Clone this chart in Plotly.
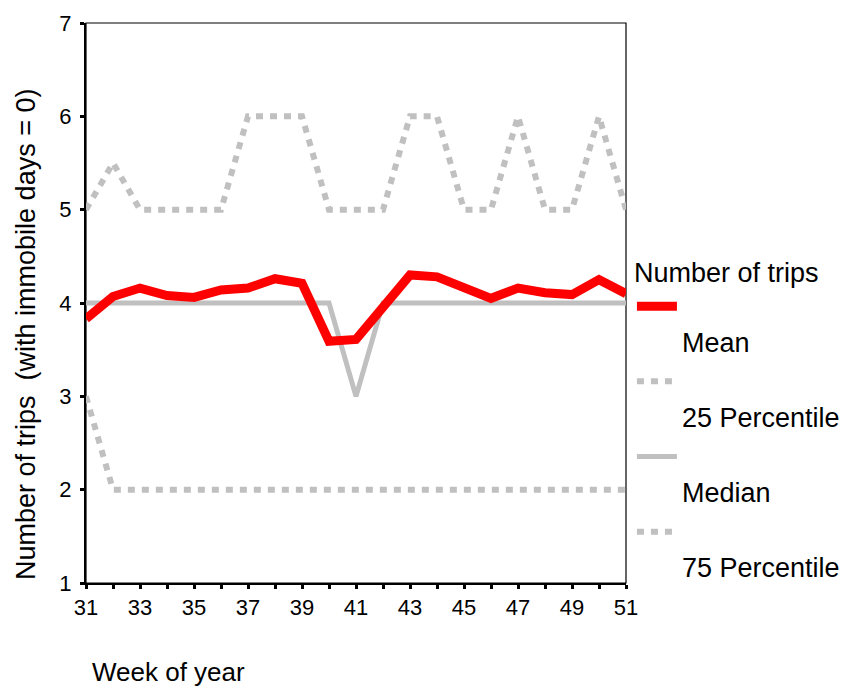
import plotly.graph_objects as go

weeks = list(range(31, 52))
mean_trips = [3.83, 4.07, 4.16, 4.08, 4.06, 4.14, 4.16, 4.26, 4.21, 3.59, 3.61,
              3.97, 4.30, 4.28, 4.16, 4.05, 4.16, 4.11, 4.09, 4.25, 4.10]
p25 = [3, 2, 2, 2, 2, 2, 2, 2, 2, 2, 2, 2, 2, 2, 2, 2, 2, 2, 2, 2, 2]
median = [4, 4, 4, 4, 4, 4, 4, 4, 4, 4, 3, 4, 4, 4, 4, 4, 4, 4, 4, 4, 4]
p75 = [5, 5.5, 5, 5, 5, 5, 6, 6, 6, 5, 5, 5, 6, 6, 5, 5, 6, 5, 5, 6, 5]

x_tick_labels = [str(w) if w % 2 == 1 else "" for w in weeks]
y_ticks = [1, 2, 3, 4, 5, 6, 7]

FONT = "Liberation Sans, Arial, sans-serif"
GRAY = "#c0c0c0"
RED = "#ff0000"

fig = go.Figure()
fig.add_trace(go.Scatter(x=weeks, y=p75, mode="lines", name="<br>75 Percentile",
                         line=dict(color=GRAY, width=6, dash="7px,7px"),
                         legendrank=4, legendgroup="d"))
fig.add_trace(go.Scatter(x=weeks, y=p25, mode="lines", name="<br>25 Percentile",
                         line=dict(color=GRAY, width=6, dash="7px,7px"),
                         legendrank=2, legendgroup="b"))
fig.add_trace(go.Scatter(x=weeks, y=median, mode="lines", name="<br>Median",
                         line=dict(color=GRAY, width=5),
                         legendrank=3, legendgroup="c"))
fig.add_trace(go.Scatter(x=weeks, y=mean_trips, mode="lines", name="<br>Mean",
                         line=dict(color=RED, width=9),
                         legendrank=1, legendgroup="a"))

fig.update_layout(
    width=843, height=690,
    margin=dict(l=86, r=217, t=23, b=107, pad=0, autoexpand=False),
    paper_bgcolor="white", plot_bgcolor="white",
    font=dict(family=FONT, color="black"),
    showlegend=True,
    legend=dict(
        title=dict(text="Number of trips", font=dict(size=27, family=FONT)),
        font=dict(size=27, family=FONT),
        x=1.011, xanchor="left", xref="paper",
        y=0.60, yanchor="top",
        valign="top", itemwidth=40, tracegroupgap=2,
        bgcolor="rgba(0,0,0,0)", borderwidth=0,
    ),
    xaxis=dict(
        range=[31, 51], tickvals=weeks, ticktext=x_tick_labels,
        showgrid=False, zeroline=False,
        showline=True, linecolor="black", linewidth=2,
        ticks="outside", ticklen=4, tickwidth=3, tickcolor="black",
        tickfont=dict(size=22, family=FONT),
    ),
    yaxis=dict(
        range=[1, 7], tickvals=y_ticks,
        showgrid=False, zeroline=False,
        showline=True, linecolor="black", linewidth=2,
        ticks="outside", ticklen=4, tickwidth=3, tickcolor="black",
        tickfont=dict(size=22, family=FONT), ticklabelstandoff=4,
    ),
    shapes=[dict(type="rect", xref="paper", yref="paper", x0=0, x1=1, y0=0, y1=1,
                 line=dict(color="black", width=1.2), layer="below")],
    annotations=[
        dict(text="Number of trips  (with immobile days = 0)", textangle=-90,
             xref="paper", yref="paper", x=-0.111, y=0.443,
             xanchor="center", yanchor="middle", showarrow=False,
             font=dict(size=27, family=FONT)),
        dict(text="Week of year", xref="paper", yref="paper",
             x=0.0074, y=-0.159, xanchor="left", yanchor="middle",
             showarrow=False, font=dict(size=26, family=FONT)),
    ],
)

fig.write_html("out.html")
